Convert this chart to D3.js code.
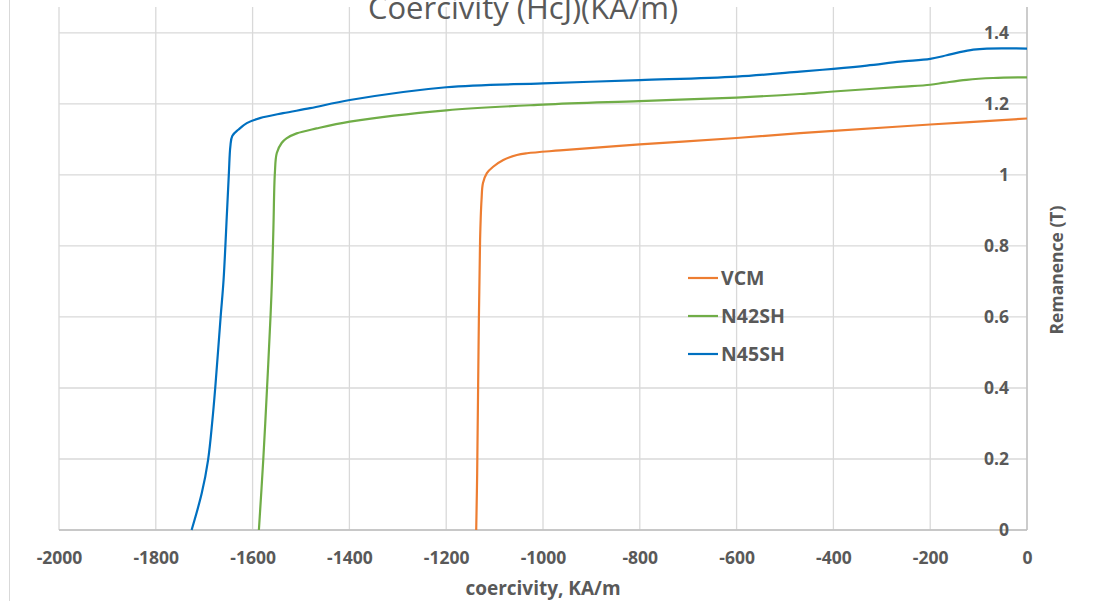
<!DOCTYPE html>
<html>
<head>
<meta charset="utf-8">
<script src="https://cdn.jsdelivr.net/npm/d3@7"></script>
<style>
  body { margin: 0; background: #fff; }
  svg { display: block; font-family: 'Open Sans', 'Liberation Sans', sans-serif; }
</style>
</head>
<body>
<div id="canvas"></div>
<script>
// series: [coercivity KA/m, remanence T]
const vcm = [
  [-1138, 0], [-1136, 0.16], [-1133, 0.535], [-1130, 0.817], [-1127, 0.93],
  [-1124, 0.977], [-1116, 1.005], [-1103, 1.023], [-1082, 1.042], [-1054, 1.056],
  [-1033, 1.061], [-965, 1.069], [-800, 1.086], [-600, 1.104], [-469, 1.118],
  [-400, 1.124], [-200, 1.142], [0, 1.159]
];
const n42sh = [
  [-1587, 0], [-1578, 0.197], [-1570, 0.404], [-1563, 0.601], [-1560, 0.704],
  [-1557, 0.85], [-1554, 1.005], [-1550, 1.062], [-1540, 1.09], [-1530, 1.103],
  [-1509, 1.117], [-1468, 1.131], [-1399, 1.15], [-1200, 1.182], [-1000, 1.198],
  [-800, 1.208], [-600, 1.218], [-469, 1.228], [-400, 1.235], [-262, 1.248],
  [-200, 1.254], [-170, 1.26], [-125, 1.268], [-70, 1.273], [0, 1.275]
];
const n45sh = [
  [-1726, 0], [-1705, 0.104], [-1692, 0.197], [-1683, 0.31], [-1677, 0.404],
  [-1666, 0.601], [-1660, 0.704], [-1653, 0.893], [-1649, 1.005], [-1646, 1.08],
  [-1642, 1.11], [-1629, 1.128], [-1612, 1.146], [-1585, 1.16], [-1537, 1.174],
  [-1481, 1.188], [-1399, 1.211], [-1200, 1.247], [-1000, 1.258], [-800, 1.267],
  [-600, 1.277], [-469, 1.291], [-400, 1.299], [-331, 1.308], [-262, 1.319],
  [-200, 1.327], [-166, 1.337], [-139, 1.346], [-111, 1.353], [-83, 1.356], [0, 1.356]
];
const seriesNames = ['VCM', 'N42SH', 'N45SH'];
const seriesColors = ['#ED7D31', '#70AD47', '#0070C0'];
const xTicks = [-2000, -1800, -1600, -1400, -1200, -1000, -800, -600, -400, -200, 0];
const yTicks = [0, 0.2, 0.4, 0.6, 0.8, 1, 1.2, 1.4];

const w = 1094;
const h = 601;
const yMax = 1.473;

const svg = d3.select('#canvas')
  .append('svg')
  .attr('width', w)
  .attr('height', h);

const x = d3.scaleLinear().domain([-2000, 0]).range([59, 1027]);
const y = d3.scaleLinear().domain([0, yMax]).range([530, 7]);

// chart border on the left
svg.append('line')
  .attr('x1', 9.5).attr('x2', 9.5).attr('y1', 0).attr('y2', h)
  .attr('stroke', '#d9d9d9').attr('stroke-width', 1);

// grid
svg.append('g')
  .selectAll('line')
  .data(xTicks)
  .enter()
  .append('line')
  .attr('x1', d => x(d)).attr('x2', d => x(d))
  .attr('y1', y(yMax)).attr('y2', y(0))
  .attr('stroke', '#d9d9d9').attr('stroke-width', 1.3);

svg.append('g')
  .selectAll('line')
  .data(yTicks)
  .enter()
  .append('line')
  .attr('x1', x(-2000)).attr('x2', x(0))
  .attr('y1', d => y(d)).attr('y2', d => y(d))
  .attr('stroke', '#d9d9d9').attr('stroke-width', 1.3);

// axis lines
svg.append('line')
  .attr('x1', x(-2000)).attr('x2', x(0)).attr('y1', y(0)).attr('y2', y(0))
  .attr('stroke', '#bfbfbf').attr('stroke-width', 1.3);
svg.append('line')
  .attr('x1', x(0)).attr('x2', x(0)).attr('y1', y(yMax)).attr('y2', y(0))
  .attr('stroke', '#bfbfbf').attr('stroke-width', 1.3);

// curves
const line = d3.line()
  .x(d => x(d[0]))
  .y(d => y(d[1]))
  .curve(d3.curveCatmullRom.alpha(0.5));

[vcm, n42sh, n45sh].forEach((s, i) => {
  svg.append('path')
    .datum(s)
    .attr('d', line)
    .attr('fill', 'none')
    .attr('stroke', seriesColors[i])
    .attr('stroke-width', 2.2)
    .attr('stroke-linejoin', 'round');
});

// axes labels
const xAxis = svg.append('g')
  .attr('transform', 'translate(0,' + y(0) + ')')
  .call(d3.axisBottom(x).tickValues(xTicks).tickSize(0).tickPadding(21.5).tickFormat(d => String(d)));
xAxis.select('.domain').remove();
xAxis.selectAll('text')
  .attr('fill', '#595959')
  .style('font-family', "'Open Sans', sans-serif")
  .style('font-size', '17.5px')
  .style('font-weight', 'bold');

const yAxis = svg.append('g')
  .attr('transform', 'translate(' + x(0) + ',0)')
  .call(d3.axisLeft(y).tickValues(yTicks).tickSize(0).tickPadding(18).tickFormat(d => String(d)));
yAxis.select('.domain').remove();
yAxis.selectAll('text')
  .attr('fill', '#595959')
  .style('font-family', "'Open Sans', sans-serif")
  .style('font-size', '17.5px')
  .style('font-weight', 'bold');

// titles
svg.append('text')
  .attr('x', 523).attr('y', 19)
  .attr('text-anchor', 'middle')
  .attr('fill', '#595959')
  .style('font-size', '31px')
  .text('Coercivity (HcJ)(KA/m)');

svg.append('text')
  .attr('x', 543).attr('y', 595)
  .attr('text-anchor', 'middle')
  .attr('fill', '#595959')
  .style('font-size', '19px')
  .style('font-weight', 'bold')
  .text('coercivity, KA/m');

svg.append('text')
  .attr('transform', 'translate(1063,270) rotate(-90)')
  .attr('text-anchor', 'middle')
  .attr('fill', '#595959')
  .style('font-size', '17.5px')
  .style('font-weight', 'bold')
  .text('Remanence (T)');

// legend
const legend = svg.append('g')
  .selectAll('g')
  .data(seriesNames)
  .enter()
  .append('g')
  .attr('transform', (d, i) => 'translate(688,' + (278 + i * 38) + ')');

legend.append('line')
  .attr('x1', 0).attr('x2', 30)
  .attr('stroke', (d, i) => seriesColors[i])
  .attr('stroke-width', 2.2);

legend.append('text')
  .attr('x', 33)
  .attr('dy', '0.36em')
  .attr('fill', '#595959')
  .style('font-size', '19.5px')
  .style('font-weight', 'bold')
  .text(d => d);
</script>
</body>
</html>
